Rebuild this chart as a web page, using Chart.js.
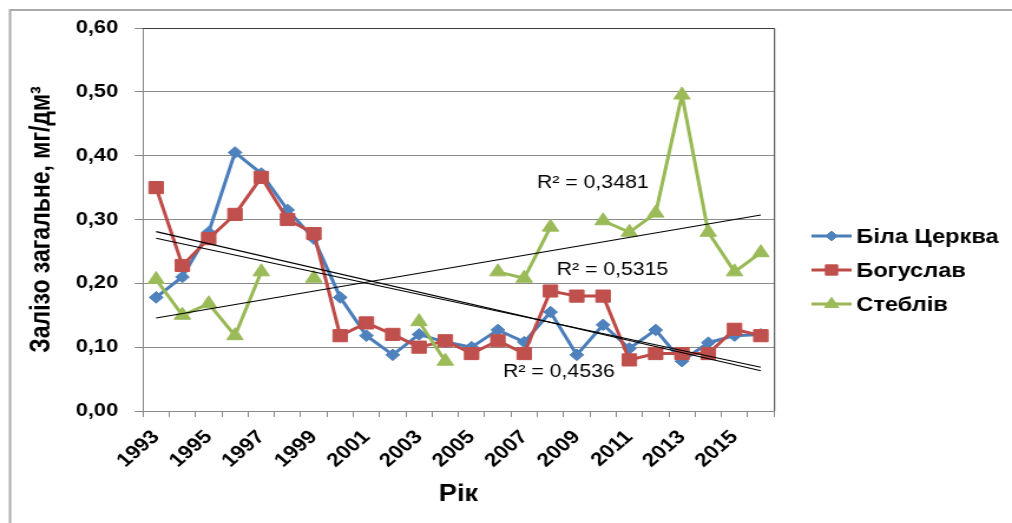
<!DOCTYPE html>
<html>
<head>
<meta charset="utf-8">
<script src="https://cdn.jsdelivr.net/npm/chart.js@4/dist/chart.umd.min.js"></script>
<style>
html,body{margin:0;padding:0;background:#fff;overflow:hidden;}
#wrap{width:1012px;height:523px;position:relative;overflow:hidden;background:#fff;}
#c{position:absolute;left:0;top:0;transform:scaleX(1.17949);transform-origin:0 0;}
</style>
</head>
<body>
<div id="wrap"><canvas id="c" width="858" height="523" style="width:858px;height:523px"></canvas></div>
<script>
// ---- data ----
const years = ['1993','1994','1995','1996','1997','1998','1999','2000','2001','2002','2003','2004',
               '2005','2006','2007','2008','2009','2010','2011','2012','2013','2014','2015','2016'];
const bilaTserkva = [0.178,0.21,0.28,0.405,0.372,0.315,0.27,0.178,0.118,0.088,0.12,0.108,
                     0.10,0.127,0.108,0.155,0.088,0.135,0.098,0.127,0.078,0.107,0.118,0.12];
const bohuslav    = [0.35,0.228,0.27,0.308,0.366,0.30,0.278,0.118,0.138,0.12,0.10,0.11,
                     0.09,0.11,0.09,0.188,0.18,0.18,0.08,0.09,0.09,0.09,0.128,0.118];
const stebliv     = [0.206,0.15,0.168,0.118,0.218,null,0.208,null,null,null,0.14,0.078,
                     null,0.218,0.208,0.288,null,0.298,0.28,0.31,0.495,0.28,0.218,0.248];
// trend lines: value at first and last year
const trendBila     = [0.2705, 0.0685];
const trendBohuslav = [0.281, 0.063];
const trendStebliv  = [0.1457, 0.307];
const r2Labels = ['R² = 0,3481', 'R² = 0,5315', 'R² = 0,4536'];
const seriesNames = ['Біла Церква', 'Богуслав', 'Стеблів'];
const yTitle = 'Залізо загальне, мг/дм³';
const xTitle = 'Рік';

const FF = "'Liberation Sans', Arial, sans-serif";
const COLORS = [
  {line:'#4A7EBB', fill:'#4F81BD', style:'rectRot', r:5.8},
  {line:'#BE4B48', fill:'#C0504D', style:'rect', r:8.6},
  {line:'#98B954', fill:'#9BBB59', style:'triangle', r:8}
];

function endpoints(pair){
  return years.map((_,i)=> i===0 ? pair[0] : (i===years.length-1 ? pair[1] : null));
}
function seriesDS(label, data, c, order){
  return {label, data, borderColor:c.line, backgroundColor:c.fill, pointBackgroundColor:c.fill,
    pointBorderColor:c.fill, pointBorderWidth:1, pointStyle:c.style, pointRadius:c.r,
    borderWidth:3, tension:0, spanGaps:false, order};
}
function trendDS(data){
  return {label:'trend', data, borderColor:'#000', borderWidth:1.1, pointRadius:0,
    spanGaps:true, tension:0, order:0};
}

// label anchors in data units: [category index, value]
const r2Anchors = [[14.49, 0.357],[15.24, 0.221],[13.2, 0.0603]];

const decor = {
  id:'decor',
  beforeDraw(chart){
    const ctx = chart.ctx;
    ctx.save();
    ctx.fillStyle = '#fff';
    ctx.fillRect(0,0,chart.width,chart.height);
    ctx.strokeStyle = '#ABABAB';
    ctx.lineWidth = 2;
    ctx.strokeRect(8.5, 10, chart.width + 20, chart.height + 20);
    ctx.restore();
  },
  afterDraw(chart){
    const ctx = chart.ctx, a = chart.chartArea;
    const xs = chart.scales.x, ys = chart.scales.y;
    ctx.save();
    // plot area border top/right
    ctx.strokeStyle = '#3a3a3a';
    ctx.lineWidth = 1;
    ctx.beginPath();
    ctx.moveTo(a.left, a.top + 0.5);
    ctx.lineTo(a.right + 0.5, a.top + 0.5);
    ctx.lineTo(a.right + 0.5, a.bottom);
    ctx.stroke();
    // R² labels
    ctx.fillStyle = '#000';
    ctx.font = '18px ' + FF;
    ctx.textBaseline = 'middle';
    ctx.textAlign = 'left';
    r2Labels.forEach((t,i)=>{
      const [ix, v] = r2Anchors[i];
      ctx.fillText(t, xs.getPixelForValue(ix), ys.getPixelForValue(v));
    });
    // legend
    const lx0 = 688, lx1 = 722, ly = [236, 270, 304];
    seriesNames.forEach((name,i)=>{
      const c = COLORS[i];
      ctx.strokeStyle = c.line;
      ctx.lineWidth = 3;
      ctx.beginPath();
      ctx.moveTo(lx0, ly[i]); ctx.lineTo(lx1, ly[i]);
      ctx.stroke();
      ctx.fillStyle = c.fill;
      ctx.strokeStyle = c.fill;
      ctx.lineWidth = 1;
      Chart.helpers.drawPoint(ctx, {pointStyle:c.style, radius:c.r*0.85, rotation:0, borderWidth:1}, (lx0+lx1)/2, ly[i]);
      ctx.fillStyle = '#000';
      ctx.font = 'bold 20px ' + FF;
      ctx.textBaseline = 'middle';
      ctx.fillText(name, 726, ly[i] + 1);
    });
    ctx.restore();
  }
};

new Chart(document.getElementById('c'), {
  type:'line',
  data:{
    labels: years,
    datasets:[
      seriesDS(seriesNames[0], bilaTserkva, COLORS[0], 4),
      seriesDS(seriesNames[1], bohuslav, COLORS[1], 3),
      seriesDS(seriesNames[2], stebliv, COLORS[2], 2),
      trendDS(endpoints(trendBila)),
      trendDS(endpoints(trendBohuslav)),
      trendDS(endpoints(trendStebliv))
    ]
  },
  options:{
    responsive:false, animation:false, devicePixelRatio:1,
    layout:{padding:{left:0, right:201.8, top:28, bottom:0}},
    plugins:{legend:{display:false}, tooltip:{enabled:false}},
    scales:{
      x:{
        type:'category', offset:true,
        grid:{offset:true, drawOnChartArea:false, drawTicks:true, tickLength:6, color:'#8a8a8a'},
        border:{display:true, color:'#8a8a8a', width:1},
        ticks:{autoSkip:false, maxRotation:45, minRotation:45, padding:9, color:'#000',
               font:{family:FF, size:19, weight:'bold'},
               callback:(v,i)=> i%2===0 ? years[i] : ''},
        title:{display:true, text:xTitle, color:'#000', font:{family:FF, size:23, weight:'bold'},
               padding:{top:0, bottom:15}},
        afterFit:(s)=>{ s.height = 112; }
      },
      y:{
        min:0, max:0.6,
        ticks:{stepSize:0.1, padding:14, color:'#000', font:{family:FF, size:18.5, weight:'bold'},
               callback:v=> Number(v).toFixed(2).replace('.', ',')},
        grid:{color:'#8a8a8a', tickLength:7, drawTicks:true},
        border:{display:true, color:'#8a8a8a', width:1},
        title:{display:true, text:yTitle, color:'#000', font:{family:FF, size:23, weight:'bold'},
               padding:{top:22, bottom:0}},
        afterFit:(s)=>{ s.width = 121.2; }
      }
    }
  },
  plugins:[decor]
});
</script>
</body>
</html>
